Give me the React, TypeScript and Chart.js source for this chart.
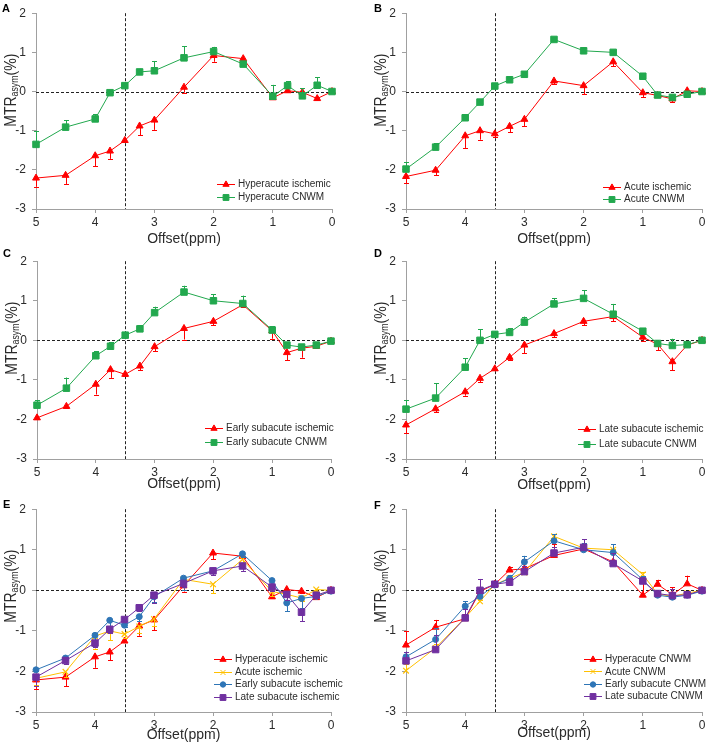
import { useEffect, useRef } from "react";
import { Chart, registerables } from "chart.js";
import { drawPoint } from "chart.js/helpers";

Chart.register(...registerables);

// ---------- data ----------
const offsets = [5, 4.5, 4, 3.75, 3.5, 3.25, 3, 2.5, 2, 1.5, 1, 0.75, 0.5, 0.25, 0];
const xTickValues = [5, 4, 3, 2, 1, 0];
const yTickValues = [2, 1, 0, -1, -2, -3];
const refOffset = 3.5;

const hyperIsch = [-2.21, -2.14, -1.64, -1.52, -1.25, -0.88, -0.73, 0.11, 0.92, 0.84, -0.16, 0.02, -0.02, -0.18, 0];
const hyperIschErr = [0.22, 0.22, 0.27, 0.2, 0.03, 0.24, 0.25, 0.14, 0.16, 0.04, 0.04, 0.03, 0.05, 0.04, 0.01];
const hyperCnwm = [-1.35, -0.91, -0.7, -0.03, 0.15, 0.5, 0.53, 0.86, 1.02, 0.7, -0.12, 0.15, -0.11, 0.16, 0];
const hyperCnwmErr = [0.35, 0.18, 0.12, 0.03, 0.05, 0.08, 0.25, 0.29, 0.12, 0.05, 0.29, 0.11, 0.19, 0.2, 0.02];

const acuteIsch = [-2.17, -2.01, -1.13, -1.0, -1.08, -0.89, -0.71, 0.27, 0.15, 0.76, -0.03, -0.1, -0.19, 0.02, 0];
const acuteIschErr = [0.17, 0.13, 0.31, 0.23, 0.09, 0.15, 0.17, 0.08, 0.22, 0.12, 0.12, 0.03, 0.08, 0.03, 0.01];
const acuteCnwm = [-1.98, -1.42, -0.67, -0.27, 0.14, 0.3, 0.44, 1.33, 1.04, 1.0, 0.39, -0.09, -0.15, -0.07, 0];
const acuteCnwmErr = [0.17, 0.1, 0.03, 0.03, 0.03, 0.03, 0.04, 0.06, 0.06, 0.03, 0.05, 0.02, 0.03, 0.02, 0.02];

const earlyIsch = [-1.96, -1.67, -1.11, -0.74, -0.86, -0.65, -0.16, 0.3, 0.48, 0.9, 0.24, -0.31, -0.2, -0.15, -0.02];
const earlyIschErr = [0.03, 0.05, 0.26, 0.21, 0.04, 0.11, 0.12, 0.28, 0.1, 0.07, 0.2, 0.2, 0.24, 0.05, 0.01];
const earlyCnwm = [-1.64, -1.21, -0.39, -0.15, 0.13, 0.29, 0.7, 1.22, 1.0, 0.93, 0.26, -0.12, -0.17, -0.12, -0.02];
const earlyCnwmErr = [0.13, 0.27, 0.12, 0.1, 0.04, 0.09, 0.15, 0.16, 0.16, 0.2, 0.09, 0.03, 0.05, 0.03, 0.01];

const lateIsch = [-2.14, -1.73, -1.3, -0.96, -0.72, -0.43, -0.12, 0.17, 0.48, 0.6, 0.08, -0.1, -0.54, -0.12, 0];
const lateIschErr = [0.21, 0.09, 0.1, 0.1, 0.04, 0.07, 0.2, 0.09, 0.1, 0.12, 0.09, 0.15, 0.22, 0.03, 0.01];
const lateCnwm = [-1.74, -1.46, -0.68, 0.0, 0.15, 0.2, 0.46, 0.92, 1.06, 0.66, 0.23, -0.08, -0.13, -0.11, 0];
const lateCnwmErr = [0.23, 0.37, 0.23, 0.28, 0.03, 0.1, 0.14, 0.15, 0.2, 0.26, 0.08, 0.03, 0.17, 0.03, 0.01];

// ---------- styles ----------
const FONT = "Arial, 'Liberation Sans', sans-serif";
const AXIS_COLOR = "#a0a0a0";
const TEXT_COLOR = "#2b2b2b";

type Style = { color: string; style: string; radius: number; bw: number };
const RED_TRI: Style = { color: "#ff0000", style: "triangle", radius: 4, bw: 1 };
const GREEN_SQ: Style = { color: "#22a84e", style: "rect", radius: 4.6, bw: 1 };
const YELLOW_X: Style = { color: "#ffc000", style: "crossRot", radius: 4, bw: 1.2 };
const BLUE_CIRC: Style = { color: "#2e75b6", style: "circle", radius: 3, bw: 1 };
const PURPLE_SQ: Style = { color: "#7030a0", style: "rect", radius: 4.6, bw: 1 };

type Series = { label: string; values: number[]; errors: number[]; dir: number; st: Style };
const ser = (label: string, values: number[], errors: number[], dir: number, st: Style): Series => ({ label, values, errors, dir, st });

type PanelDef = {
  letter: string;
  series: Series[];
  box: { left: number; top: number; w: number; h: number };
  area: { l: number; r: number; t: number; b: number };
  titleY: number;
  legend: { x: number; y: number; gap: number };
  letterPos: { x: number; y: number };
};

const panels: PanelDef[] = [
  {
    letter: "A",
    series: [
      ser("Hyperacute ischemic", hyperIsch, hyperIschErr, -1, RED_TRI),
      ser("Hyperacute CNWM", hyperCnwm, hyperCnwmErr, 1, GREEN_SQ),
    ],
    box: { left: 0, top: 0, w: 354, h: 248 },
    area: { l: 36, r: 332, t: 9, b: 209 },
    titleY: 239,
    legend: { x: 217, y: 184, gap: 13 },
    letterPos: { x: 2, y: 12 },
  },
  {
    letter: "B",
    series: [
      ser("Acute ischemic", acuteIsch, acuteIschErr, -1, RED_TRI),
      ser("Acute CNWM", acuteCnwm, acuteCnwmErr, 1, GREEN_SQ),
    ],
    box: { left: 354, top: 0, w: 354, h: 248 },
    area: { l: 52, r: 348, t: 9, b: 209 },
    titleY: 239,
    legend: { x: 249, y: 187, gap: 12 },
    letterPos: { x: 20, y: 12 },
  },
  {
    letter: "C",
    series: [
      ser("Early subacute ischemic", earlyIsch, earlyIschErr, -1, RED_TRI),
      ser("Early subacute CNWM", earlyCnwm, earlyCnwmErr, 1, GREEN_SQ),
    ],
    box: { left: 0, top: 248, w: 354, h: 248 },
    area: { l: 37, r: 331, t: 7, b: 211 },
    titleY: 236,
    legend: { x: 205, y: 180, gap: 13.5 },
    letterPos: { x: 3, y: 9 },
  },
  {
    letter: "D",
    series: [
      ser("Late subacute ischemic", lateIsch, lateIschErr, -1, RED_TRI),
      ser("Late subacute CNWM", lateCnwm, lateCnwmErr, 1, GREEN_SQ),
    ],
    box: { left: 354, top: 248, w: 354, h: 248 },
    area: { l: 52, r: 348, t: 7, b: 211 },
    titleY: 237,
    legend: { x: 224, y: 181, gap: 14.5 },
    letterPos: { x: 20, y: 9 },
  },
  {
    letter: "E",
    series: [
      ser("Hyperacute ischemic", hyperIsch, hyperIschErr, -1, RED_TRI),
      ser("Acute ischemic", acuteIsch, acuteIschErr, -1, YELLOW_X),
      ser("Early subacute ischemic", earlyIsch, earlyIschErr, -1, BLUE_CIRC),
      ser("Late subacute ischemic", lateIsch, lateIschErr, -1, PURPLE_SQ),
    ],
    box: { left: 0, top: 496, w: 354, h: 256 },
    area: { l: 36, r: 331, t: 11, b: 216 },
    titleY: 239,
    legend: { x: 214, y: 163, gap: 12.6 },
    letterPos: { x: 3, y: 12 },
  },
  {
    letter: "F",
    series: [
      ser("Hyperacute CNWM", hyperCnwm, hyperCnwmErr, 1, RED_TRI),
      ser("Acute CNWM", acuteCnwm, acuteCnwmErr, 1, YELLOW_X),
      ser("Early subacute CNWM", earlyCnwm, earlyCnwmErr, 1, BLUE_CIRC),
      ser("Late subacute CNWM", lateCnwm, lateCnwmErr, 1, PURPLE_SQ),
    ],
    box: { left: 354, top: 496, w: 354, h: 256 },
    area: { l: 52, r: 348, t: 11, b: 216 },
    titleY: 237,
    legend: { x: 230, y: 163, gap: 12.4 },
    letterPos: { x: 20, y: 13 },
  },
];

function buildChart(canvas: HTMLCanvasElement, p: PanelDef) {
  const n = p.series.length;
  const datasets = p.series.map((s, i) => ({
    label: s.label,
    data: offsets.map((x, j) => ({ x, y: s.values[j] })),
    borderColor: s.st.color,
    backgroundColor: s.st.color,
    borderWidth: 1,
    pointStyle: s.st.style,
    pointRadius: s.st.radius,
    pointHoverRadius: s.st.radius,
    pointBorderWidth: s.st.bw,
    pointBorderColor: s.st.color,
    pointBackgroundColor: s.st.color,
    tension: 0,
    clip: false as any,
    order: n - i,
  }));

  const decor = {
    id: "decor",
    beforeDatasetsDraw(chart: any) {
      const { ctx, chartArea: a, scales } = chart;
      ctx.save();
      ctx.strokeStyle = "#222222";
      ctx.lineWidth = 1;
      ctx.setLineDash([3, 2]);
      const vx = Math.round(scales.x.getPixelForValue(refOffset)) + 0.5;
      ctx.beginPath();
      ctx.moveTo(vx, a.top);
      ctx.lineTo(vx, a.bottom);
      ctx.stroke();
      const hy = Math.round(scales.y.getPixelForValue(0)) + 0.5;
      ctx.beginPath();
      ctx.moveTo(a.left, hy);
      ctx.lineTo(a.right, hy);
      ctx.stroke();
      ctx.restore();
    },
    beforeDatasetDraw(chart: any, args: any) {
      const s = p.series[args.index];
      const meta = args.meta;
      const { ctx, scales } = chart;
      ctx.save();
      ctx.strokeStyle = s.st.color;
      ctx.lineWidth = 1;
      meta.data.forEach((pt: any, j: number) => {
        const x0 = Math.round(pt.x) + 0.5;
        const y0 = pt.y;
        const y1 = scales.y.getPixelForValue(s.values[j] + s.dir * s.errors[j]);
        ctx.beginPath();
        ctx.moveTo(x0, y0);
        ctx.lineTo(x0, y1);
        ctx.moveTo(x0 - 2.5, Math.round(y1) + 0.5);
        ctx.lineTo(x0 + 2.5, Math.round(y1) + 0.5);
        ctx.stroke();
      });
      ctx.restore();
    },
    afterDraw(chart: any) {
      const { ctx, chartArea: a } = chart;
      // legend
      ctx.save();
      p.series.forEach((s, i) => {
        const yy = p.legend.y + i * p.legend.gap;
        const lx = p.legend.x;
        ctx.strokeStyle = s.st.color;
        ctx.fillStyle = s.st.color;
        ctx.lineWidth = 1;
        ctx.beginPath();
        ctx.moveTo(lx, Math.round(yy) + 0.5);
        ctx.lineTo(lx + 18, Math.round(yy) + 0.5);
        ctx.stroke();
        drawPoint(ctx, { pointStyle: s.st.style as any, radius: s.st.radius * 0.9, borderWidth: s.st.bw, rotation: 0 } as any, lx + 9, Math.round(yy) + 0.5);
        ctx.fillStyle = TEXT_COLOR;
        ctx.font = `10px ${FONT}`;
        ctx.textBaseline = "middle";
        ctx.textAlign = "left";
        ctx.fillText(s.label, lx + 21, yy + 0.5);
      });
      ctx.restore();

      // y-axis title with subscript
      ctx.save();
      ctx.translate(a.left - 26, a.top + 77);
      ctx.rotate(-Math.PI / 2);
      const big = `16px ${FONT}`;
      const small = `10px ${FONT}`;
      ctx.font = big;
      const w1 = ctx.measureText("MTR").width;
      const w3 = ctx.measureText("(%)").width;
      ctx.font = small;
      const w2 = ctx.measureText("asym").width;
      const total = w1 + w2 + w3;
      ctx.scale(73 / total, 1);
      ctx.fillStyle = TEXT_COLOR;
      ctx.textBaseline = "alphabetic";
      ctx.textAlign = "left";
      let x = -total / 2;
      const base = 5.8;
      ctx.font = big;
      ctx.fillText("MTR", x, base);
      x += w1;
      ctx.font = small;
      ctx.fillText("asym", x, base + 2);
      x += w2;
      ctx.font = big;
      ctx.fillText("(%)", x, base);
      ctx.restore();

      // panel letter
      ctx.save();
      ctx.fillStyle = "#000000";
      ctx.font = `bold 11px ${FONT}`;
      ctx.textBaseline = "alphabetic";
      ctx.textAlign = "left";
      ctx.fillText(p.letter, p.letterPos.x, p.letterPos.y);
      ctx.restore();
    },
  };

  return new Chart(canvas, {
    type: "line",
    data: { datasets: datasets as any },
    options: {
      animation: false,
      responsive: false,
      maintainAspectRatio: false,
      events: [],
      layout: {
        padding: { left: 0, top: p.area.t, right: p.box.w - p.area.r, bottom: 0 },
      },
      plugins: {
        legend: { display: false },
        tooltip: { enabled: false },
        title: { display: false },
      },
      scales: {
        x: {
          type: "linear",
          reverse: true,
          min: 0,
          max: 5,
          afterBuildTicks: (scale: any) => {
            scale.ticks = xTickValues.map((v) => ({ value: v }));
          },
          ticks: {
            color: TEXT_COLOR,
            font: { family: FONT, size: 12 },
            padding: 2,
            maxRotation: 0,
            callback: (v: any) => String(v),
          },
          grid: { drawOnChartArea: false, drawTicks: true, tickLength: 4, color: AXIS_COLOR },
          border: { color: AXIS_COLOR, width: 1 },
          title: {
            display: true,
            text: "Offset(ppm)",
            color: TEXT_COLOR,
            font: { family: FONT, size: 14 },
            padding: { top: 0, bottom: Math.max(0, p.box.h - p.titleY - 8.4) },
          },
          afterFit: (scale: any) => {
            scale.height = p.box.h - p.area.b;
          },
        },
        y: {
          type: "linear",
          min: -3,
          max: 2,
          afterBuildTicks: (scale: any) => {
            scale.ticks = yTickValues.map((v) => ({ value: v }));
          },
          ticks: {
            color: TEXT_COLOR,
            font: { family: FONT, size: 12 },
            padding: 6,
            callback: (v: any) => String(v),
          },
          grid: { drawOnChartArea: false, drawTicks: true, tickLength: 4, color: AXIS_COLOR },
          border: { color: AXIS_COLOR, width: 1 },
          afterFit: (scale: any) => {
            scale.width = p.area.l;
          },
        },
      },
    } as any,
    plugins: [decor as any],
  });
}

function Panel({ p }: { p: PanelDef }) {
  const ref = useRef<HTMLCanvasElement | null>(null);
  useEffect(() => {
    if (!ref.current) return;
    const c = buildChart(ref.current, p);
    return () => c.destroy();
  }, [p]);
  return (
    <div style={{ position: "absolute", left: p.box.left, top: p.box.top, width: p.box.w, height: p.box.h }}>
      <canvas ref={ref} width={p.box.w} height={p.box.h} style={{ width: p.box.w, height: p.box.h, display: "block" }} />
    </div>
  );
}

export default function App() {
  return (
    <div style={{ position: "absolute", left: 0, top: 0, width: 708, height: 752, background: "#ffffff" }}>
      {panels.map((p) => (
        <Panel key={p.letter} p={p} />
      ))}
    </div>
  );
}
